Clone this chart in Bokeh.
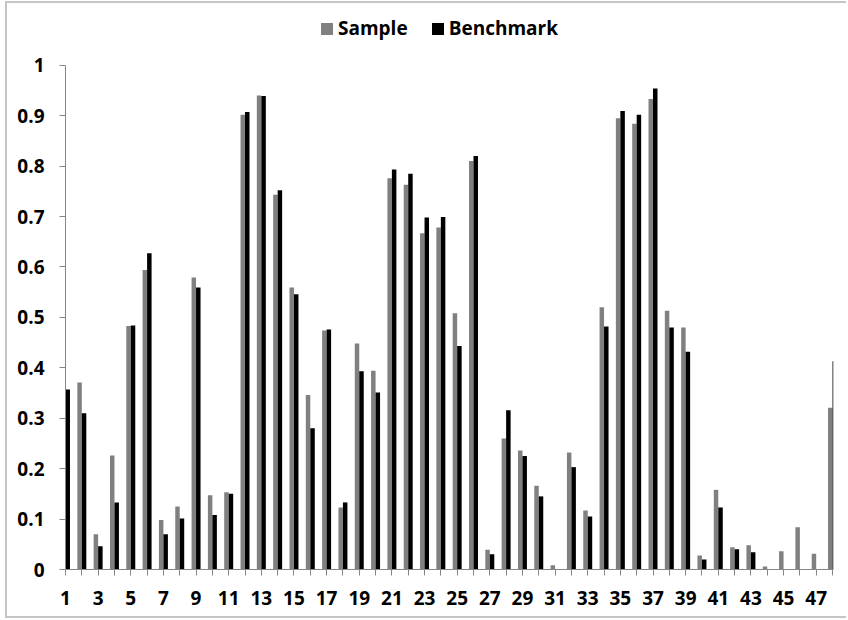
from bokeh.plotting import figure
from bokeh.models import (ColumnDataSource, Range1d, FixedTicker, CustomJSTickFormatter,
                          Legend, LegendItem)
from bokeh.transform import dodge
from bokeh.embed import file_html
from bokeh.resources import INLINE

# ---- data ----
categories = list(range(1, 49))
sample = [0.340, 0.371, 0.070, 0.226, 0.483, 0.594, 0.098, 0.125, 0.579, 0.147,
          0.153, 0.902, 0.940, 0.743, 0.559, 0.346, 0.474, 0.123, 0.448, 0.394,
          0.776, 0.763, 0.667, 0.678, 0.508, 0.810, 0.039, 0.260, 0.236, 0.166,
          0.0085, 0.232, 0.117, 0.520, 0.895, 0.884, 0.933, 0.513, 0.480, 0.028,
          0.158, 0.044, 0.048, 0.006, 0.036, 0.084, 0.031, 0.321]
benchmark = [0.357, 0.310, 0.046, 0.133, 0.484, 0.627, 0.070, 0.101, 0.559, 0.108,
             0.150, 0.907, 0.939, 0.752, 0.546, 0.280, 0.476, 0.133, 0.393, 0.351,
             0.793, 0.785, 0.698, 0.699, 0.443, 0.820, 0.030, 0.316, 0.225, 0.145,
             0.000, 0.203, 0.105, 0.482, 0.909, 0.902, 0.954, 0.480, 0.432, 0.020,
             0.123, 0.040, 0.034, 0.000, 0.000, 0.000, 0.000, 0.413]
x_label_ticks = list(range(1, 48, 2))
x_minor_ticks = list(range(2, 49, 2))
y_ticks = [0, 0.1, 0.2, 0.3, 0.4, 0.5, 0.6, 0.7, 0.8, 0.9, 1.0]
series_names = ["Sample", "Benchmark"]
series_colors = ["#808080", "#000000"]

FONT = "Open Sans"
AXIS_COLOR = "#868686"
NAN = float("nan")

# the frame reaches the top of the chart so that the legend (drawn inside the
# frame) can sit above the value 1; the y axis line is bounded to 0..1
p = figure(width=841, height=617, output_backend="svg", toolbar_location=None,
           x_range=Range1d(1, 48.06), y_range=Range1d(0, 1.1224),
           min_border_left=58, min_border_right=15, min_border_top=0,
           min_border_bottom=51)
p.styles = {"border-left": "2px solid #c6c6c6", "border-top": "2px solid #c6c6c6",
            "border-bottom": "2px solid #c6c6c6", "margin-left": "5px",
            "margin-top": "1px"}
p.outline_line_color = None
p.xgrid.visible = False
p.ygrid.visible = False
p.background_fill_color = "white"
p.border_fill_color = "white"

src = ColumnDataSource(dict(cat=categories, sample=sample, benchmark=benchmark))
r1 = p.vbar(x=dodge("cat", -0.1375, range=p.x_range), top="sample", width=0.275,
            source=src, fill_color=series_colors[0], line_color=None)
r2 = p.vbar(x=dodge("cat", 0.1375, range=p.x_range), top="benchmark", width=0.275,
            source=src, fill_color=series_colors[1], line_color=None)

# square legend swatches (proxy renderers that draw nothing in the plot)
k1 = p.quad(left=[NAN], right=[NAN], top=[NAN], bottom=[NAN],
            fill_color=series_colors[0], line_color=None)
k2 = p.quad(left=[NAN], right=[NAN], top=[NAN], bottom=[NAN],
            fill_color=series_colors[1], line_color=None)

# x axis
xa = p.xaxis[0]
xa.ticker = FixedTicker(ticks=x_label_ticks, minor_ticks=x_minor_ticks)
xa.major_tick_out = 6
xa.major_tick_in = 0
xa.minor_tick_out = 6
xa.minor_tick_in = 0
xa.axis_line_color = AXIS_COLOR
xa.major_tick_line_color = AXIS_COLOR
xa.minor_tick_line_color = AXIS_COLOR
xa.major_label_standoff = 15
xa.major_label_text_font = FONT
xa.major_label_text_font_size = "19px"
xa.major_label_text_font_style = "bold"
xa.major_label_text_color = "black"

# y axis
ya = p.yaxis[0]
ya.ticker = FixedTicker(ticks=y_ticks)
ya.bounds = (0, 1)
ya.formatter = CustomJSTickFormatter(code="return (Math.round(tick*10)/10).toString();")
ya.major_tick_out = 6
ya.major_tick_in = 0
ya.minor_tick_line_color = None
ya.axis_line_color = AXIS_COLOR
ya.major_tick_line_color = AXIS_COLOR
ya.major_label_standoff = 15
ya.major_label_text_font = FONT
ya.major_label_text_font_size = "19px"
ya.major_label_text_font_style = "bold"
ya.major_label_text_color = "black"

legend = Legend(items=[LegendItem(label=series_names[0], renderers=[k1], index=0),
                       LegendItem(label=series_names[1], renderers=[k2], index=0)],
                orientation="horizontal", location=(254, 528),
                glyph_width=15, glyph_height=15, label_standoff=4, spacing=22,
                padding=0, margin=0, border_line_color=None,
                background_fill_alpha=0,
                label_text_font=FONT, label_text_font_size="19px",
                label_text_font_style="bold", label_text_color="black")
p.add_layout(legend)

open("out.html", "w").write(file_html(p, INLINE))
